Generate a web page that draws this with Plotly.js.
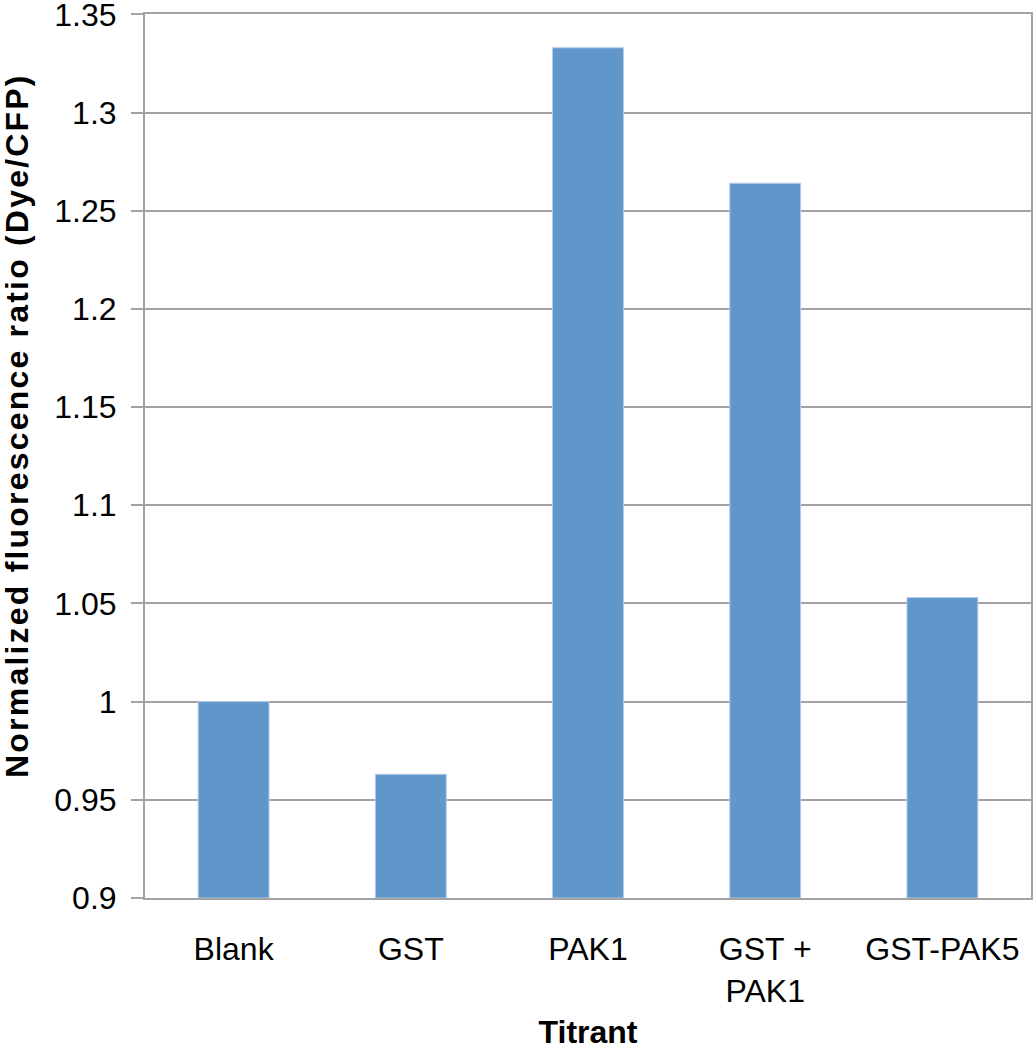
<!DOCTYPE html>
<html>
<head>
<meta charset="utf-8">
<script src="https://cdn.plot.ly/plotly-3.0.1.min.js"></script>
<style>
  body { margin: 0; background: #fff; }
  #plot { width: 1033px; height: 1050px; }
  /* the original y title is set a little wider than the font gives */
  #plot .annotation-text { letter-spacing: 2.2px; }
</style>
</head>
<body>
<div id="plot"></div>
<script>
const titrants = ['Blank', 'GST', 'PAK1', 'GST +<br>PAK1', 'GST-PAK5'];
const ratios = [1.0, 0.963, 1.333, 1.264, 1.053];
const yTicks = [0.9, 0.95, 1, 1.05, 1.1, 1.15, 1.2, 1.25, 1.3, 1.35];
const yTickText = ['0.9', '0.95', '1', '1.05', '1.1', '1.15', '1.2', '1.25', '1.3', '1.35'];

const font = 'Liberation Sans, Arial, sans-serif';
const gridColor = '#a3a3a3';

Plotly.newPlot('plot', [{
    type: 'bar',
    x: titrants,
    y: ratios.map(v => v - 0.9),
    base: 0.9,
    marker: {color: '#6096c9', line: {color: '#b4cde9', width: 1}},
    hoverinfo: 'x'
}], {
    width: 1033,
    height: 1050,
    margin: {l: 145, r: 2, t: 14, b: 152},
    paper_bgcolor: '#fff',
    plot_bgcolor: '#fff',
    font: {family: font, size: 32, color: '#000'},
    showlegend: false,
    bargap: 0.6,
    xaxis: {
        title: {text: '<b>Titrant</b>', font: {size: 32}, standoff: 28},
        showline: true, linecolor: gridColor, linewidth: 2, mirror: true,
        ticks: '', ticklabelstandoff: 22,
        automargin: false
    },
    yaxis: {
        range: [0.9, 1.3502],
        tickvals: yTicks,
        ticktext: yTickText,
        ticklabeloverflow: 'allow',
        showline: true, linecolor: gridColor, linewidth: 2, mirror: true,
        showgrid: true, gridcolor: gridColor, gridwidth: 2,
        ticks: 'outside', ticklen: 12, tickcolor: gridColor, tickwidth: 2,
        ticklabelstandoff: 8,
        zeroline: false,
        automargin: false
    },
    annotations: [{
        text: '<b>Normalized fluorescence ratio (Dye/CFP)</b>',
        textangle: -90,
        xref: 'paper', yref: 'paper',
        x: -0.1445, y: 0.535,
        xanchor: 'center', yanchor: 'middle',
        showarrow: false,
        font: {size: 32}
    }]
}, {displayModeBar: false, staticPlot: true});
</script>
</body>
</html>
